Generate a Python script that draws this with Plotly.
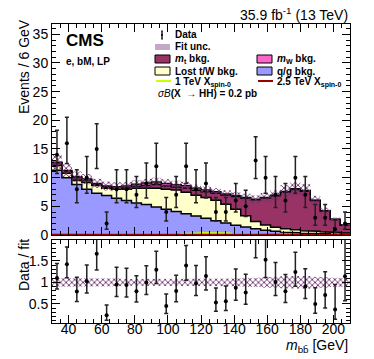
import numpy as np
import plotly.graph_objects as go

# 6 GeV bins from 30 to 210 GeV
edges = list(range(30, 211, 6))
centers = [e + 3 for e in edges[:-1]]

data = [14, 16, 8, 10, 15, 2, 8, 8, 7, 9, 12, 4, 7, 12, 8, 9, 4, 4, 6, 5,
        13, 10, 7, 6, 10, 7, 3, 3, 1, 2]
qg_bkg = [11.3, 10.0, 8.8, 8.0, 7.3, 6.9, 6.4, 6.0, 5.6, 5.3, 4.9, 4.5, 4.1, 3.7, 3.3,
          2.9, 2.5, 2.1, 1.7, 1.4, 1.1, 0.85, 0.65, 0.5, 0.4, 0.3, 0.25, 0.2, 0.15, 0.1]
lost_bkg = [0.8, 0.75, 0.75, 1.15, 1.35, 1.25, 1.6, 2.0, 2.55, 2.85, 3.25, 3.5, 3.75, 3.75, 3.65,
            3.65, 3.55, 3.25, 2.8, 1.95, 1.25, 0.9, 0.7, 0.6, 0.5, 0.45, 0.4, 0.35, 0.3, 0.25]
mt_bkg = [0.5, 0.4, 0.5, 0.45, 0.2, 0.2, 0.15, 0.25, 0.35, 0.5, 0.65, 0.55, 0.5, 0.75, 0.85,
          1.0, 1.25, 1.6, 2.2, 3.05, 3.8, 4.7, 5.5, 6.4, 7.05, 6.9, 5.35, 3.65, 2.25, 1.35]
mw_bkg = [0.1, 0.1, 0.1, 0.15, 0.15, 0.2, 0.25, 0.3, 0.35, 0.4, 0.45, 0.45, 0.4, 0.4, 0.35,
          0.3, 0.25, 0.2, 0.15, 0.15, 0.1, 0.1, 0.1, 0.1, 0.1, 0.1, 0.05, 0.05, 0.05, 0.05]
fit_rel_unc = [0.10, 0.10, 0.09, 0.09, 0.09, 0.09, 0.09, 0.08, 0.08, 0.08, 0.08, 0.08, 0.08, 0.08, 0.08,
               0.08, 0.08, 0.09, 0.09, 0.10, 0.11, 0.12, 0.13, 0.14, 0.15, 0.15, 0.13, 0.12, 0.11, 0.10]
sig_1tev = [0, 0, 0, 0, 0, 0, 0, 0, 0, 0, 0.02, 0.05, 0.1, 0.2, 0.3,
            0.35, 0.3, 0.25, 0.15, 0.1, 0.05, 0.02, 0, 0, 0, 0, 0, 0, 0, 0]
sig_25tev = [0.03, 0.03, 0.03, 0.03, 0.03, 0.03, 0.03, 0.03, 0.04, 0.05, 0.06, 0.08, 0.1, 0.12, 0.15,
             0.15, 0.14, 0.12, 0.1, 0.08, 0.06, 0.05, 0.04, 0.03, 0.03, 0.03, 0.03, 0.03, 0.03, 0.03]

C_QG = "#9999ff"
C_LOST = "#ffffcc"
C_MT = "#993366"
C_MW = "#ff66cc"
C_HATCH = "#6e2f6e"
FONT = "Liberation Sans, Arial, sans-serif"


def steps(vals):
    xs, ys = [], []
    for i, v in enumerate(vals):
        xs += [edges[i], edges[i + 1]]
        ys += [float(v), float(v)]
    return xs, ys


def poisson_err(n):
    up = 0.5 + np.sqrt(n + 0.25)
    down = np.where(n > 0, -0.5 + np.sqrt(n + 0.25), 0)
    return up, down


qg = np.array(qg_bkg)
c_lost = qg + np.array(lost_bkg)
c_mt = c_lost + np.array(mt_bkg)
total = c_mt + np.array(mw_bkg)
d = np.array(data, dtype=float)
eu, ed = poisson_err(d)

fig = go.Figure()

# stacked backgrounds, drawn from the top of the stack down
for vals, col in [(total, C_MW), (c_mt, C_MT), (c_lost, C_LOST), (qg, C_QG)]:
    xs, ys = steps(vals)
    fig.add_trace(go.Scatter(x=xs, y=ys, mode="lines", fill="tozeroy", fillcolor=col,
                             line=dict(color="black", width=1.5), hoverinfo="skip",
                             showlegend=False, xaxis="x", yaxis="y"))

# signals
for vals, col in [(sig_1tev, "#ccff00"), (sig_25tev, "#990000")]:
    xs, ys = steps(vals)
    fig.add_trace(go.Scatter(x=xs, y=ys, mode="lines", line=dict(color=col, width=2),
                             showlegend=False, xaxis="x", yaxis="y"))


def band(center, half, xaxis, yaxis):
    xl, yl = steps(center - half)
    xu, yu = steps(center + half)
    fig.add_trace(go.Scatter(x=xl, y=yl, mode="lines", line=dict(width=0, color="rgba(0,0,0,0)"),
                             hoverinfo="skip", showlegend=False, xaxis=xaxis, yaxis=yaxis))
    fig.add_trace(go.Scatter(x=xu, y=yu, mode="lines", fill="tonexty",
                             fillcolor="rgba(150,90,150,0.15)",
                             line=dict(width=0, color="rgba(0,0,0,0)"),
                             fillpattern=dict(shape="x", fgcolor=C_HATCH, size=4, solidity=0.4),
                             hoverinfo="skip", showlegend=False, xaxis=xaxis, yaxis=yaxis))


rel = np.array(fit_rel_unc)
band(total, total * rel, "x", "y")
band(np.ones_like(total), rel, "x2", "y2")

err_style = dict(type="data", symmetric=False, color="#222222", thickness=1.5, width=2)
fig.add_trace(go.Scatter(x=centers, y=d, mode="markers",
                         marker=dict(color="black", size=4),
                         error_y=dict(array=eu, arrayminus=ed, **err_style),
                         showlegend=False, xaxis="x", yaxis="y"))
fig.add_trace(go.Scatter(x=centers, y=d / total, mode="markers",
                         marker=dict(color="black", size=4),
                         error_y=dict(array=eu / total, arrayminus=ed / total, **err_style),
                         showlegend=False, xaxis="x2", yaxis="y2"))

axis_common = dict(showline=True, linecolor="black", linewidth=1, mirror="allticks",
                   ticks="inside", ticklen=8, tickcolor="black", showgrid=False, zeroline=False,
                   automargin=False, tickfont=dict(family=FONT, size=14, color="black"))

L, R, T, B = 52, 24, 24, 36
W, H = 374, 359
PW, PH = W - L - R, H - T - B


def px(x):
    return (x - L) / PW


def py(y):
    return (H - B - y) / PH


fig.update_layout(
    template="none",
    width=W, height=H, margin=dict(l=L, r=R, t=T, b=B),
    plot_bgcolor="white", paper_bgcolor="white",
    font=dict(family=FONT, color="black"),
    xaxis=dict(range=[30, 210], showticklabels=False, anchor="y", dtick=20, tick0=0,
               minor=dict(ticks="inside", dtick=5, ticklen=4, tickcolor="black"), **axis_common),
    yaxis=dict(range=[0, 36.8], domain=[py(235), 1], dtick=5, anchor="x",
               minor=dict(ticks="inside", dtick=1, ticklen=4, tickcolor="black"), **axis_common),
    xaxis2=dict(range=[30, 210], anchor="y2", dtick=20, tick0=0, matches="x",
                ticklabelstandoff=-7,
                minor=dict(ticks="inside", dtick=5, ticklen=4, tickcolor="black"), **axis_common),
    yaxis2=dict(range=[0.05, 1.99], domain=[0, py(240)], anchor="x2",
                tickvals=[0.5, 1, 1.5], ticktext=["0.5", "1", "1.5"],
                minor=dict(ticks="inside", dtick=0.1, ticklen=4, tickcolor="black"), **axis_common),
)

ann = [
    dict(x=px(350), y=py(14), text="35.9 fb<sup>-1</sup> (13 TeV)", xanchor="right",
         font=dict(size=14)),
    dict(x=px(64), y=py(41), text="<b>CMS</b>", xanchor="left", font=dict(size=17)),
    dict(x=px(64), y=py(61), text="<b>e, bM, LP</b>", xanchor="left", font=dict(size=10)),
    dict(x=px(14), y=py(67), text="Events / 6 GeV", textangle=-90, font=dict(size=14)),
    dict(x=px(14), y=py(265), text="Data / fit", textangle=-90, font=dict(size=14)),
    dict(x=px(350), y=py(346), text="<i>m</i><sub>bb\u0304</sub> [GeV]", xanchor="right",
         font=dict(size=14)),
    dict(x=px(173), y=py(35), text="<b>Data</b>", xanchor="left", font=dict(size=10)),
    dict(x=px(173), y=py(47), text="<b>Fit unc.</b>", xanchor="left", font=dict(size=10)),
    dict(x=px(173), y=py(59), text="<b><i>m</i><sub>t</sub> bkg.</b>", xanchor="left", font=dict(size=10)),
    dict(x=px(275), y=py(59), text="<b><i>m</i><sub>W</sub> bkg.</b>", xanchor="left", font=dict(size=10)),
    dict(x=px(173), y=py(71), text="<b>Lost t/W bkg.</b>", xanchor="left", font=dict(size=10)),
    dict(x=px(275), y=py(71), text="<b>q/g bkg.</b>", xanchor="left", font=dict(size=10)),
    dict(x=px(173), y=py(82), text="<b>1 TeV X<sub>spin-0</sub></b>", xanchor="left", font=dict(size=10)),
    dict(x=px(275), y=py(82), text="<b>2.5 TeV X<sub>spin-0</sub></b>", xanchor="left", font=dict(size=10)),
    dict(x=px(156), y=py(94), text="<i>\u03c3B</i><b>(X  \u2192 HH) = 0.2 pb</b>", xanchor="left",
         font=dict(size=10)),
]
for a in ann:
    a.update(xref="paper", yref="paper", showarrow=False, yanchor="middle")
    fig.add_annotation(**a)


def box(x0, y0, x1, y1, fill, line="black"):
    fig.add_shape(type="rect", xref="paper", yref="paper", x0=px(x0), x1=px(x1),
                  y0=py(y1), y1=py(y0), fillcolor=fill, line=dict(color=line, width=1))


def seg(x0, y0, x1, y1, col, w):
    fig.add_shape(type="line", xref="paper", yref="paper", x0=px(x0), x1=px(x1),
                  y0=py(y0), y1=py(y1), line=dict(color=col, width=w))


# legend symbols
seg(162, 31, 162, 39, "#222222", 1.5)
seg(161, 31, 163, 31, "#222222", 1)
seg(161, 39, 163, 39, "#222222", 1)
fig.add_shape(type="circle", xref="paper", yref="paper", x0=px(161), x1=px(163),
              y0=py(36), y1=py(34), fillcolor="black", line=dict(color="black", width=0))
box(155, 44, 170, 50, "rgba(140,80,150,0.5)", line="rgba(0,0,0,0)")
box(155, 55, 170, 63, C_MT)
box(257, 55, 272, 63, C_MW)
box(155, 67, 170, 75, C_LOST)
box(257, 67, 272, 75, C_QG)
seg(156, 81, 171, 81, "#ccff00", 2)
seg(258, 81, 273, 81, "#990000", 2)

# drop the browser's default 8px body margin so the figure sits at the page origin
fig.write_html("out.html", config={"displayModeBar": False},
               post_script="document.body.style.margin='0';")
